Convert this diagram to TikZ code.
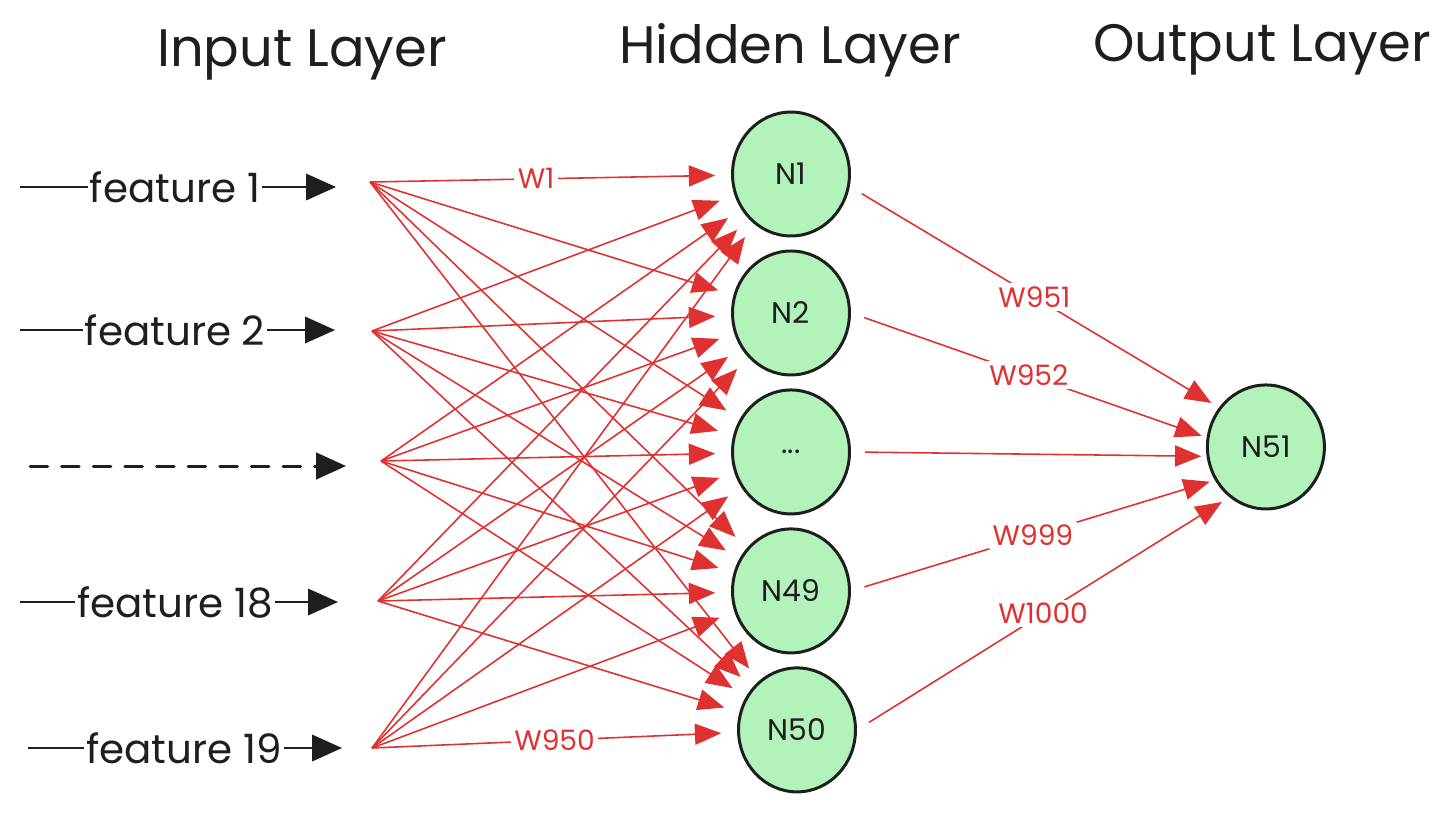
\documentclass[tikz,border=0pt]{standalone}
\usepackage{fontspec}
\setmainfont{Poppins}
\usetikzlibrary{shapes.geometric,arrows.meta,positioning}
\definecolor{wred}{HTML}{E03131}
\definecolor{nfill}{HTML}{B2F2BB}
\definecolor{ink}{HTML}{1E1E1E}

\begin{document}
\begin{tikzpicture}[
    x=0.02cm, y=-0.02cm,
    node distance=2.78cm,
    title/.style={font=\fontsize{30}{36}\selectfont, text=ink},
    neuron/.style={ellipse, draw=ink, line width=1.7pt, fill=nfill, minimum width=2.34cm, minimum height=2.48cm, font=\fontsize{17}{20}\selectfont, text=ink},
    feature/.style={font=\fontsize{23}{28}\selectfont, text=ink, inner sep=1pt},
    inline/.style={draw=ink, line width=1.3pt},
    inarrow/.style={inline, -{Triangle[length=17pt, width=15pt]}},
    weight/.style={draw=wred, line width=0.9pt, -{Triangle[length=15pt, width=12pt]}, shorten >=9pt},
    wlabel/.style={fill=white, text=wred, font=\fontsize{16}{19}\selectfont, inner sep=2pt}
]
\useasboundingbox (0,0) rectangle (1456,812);

% Titles
\node [title] (in_title) at (302,55) {Input Layer};
\node [title] (hid_title) at (790,50) {Hidden Layer};
\node [title] (out_title) at (1262,50) {Output Layer};

% Hidden Layer
\node [neuron] (n1) at (791,174) {N1};
\node [neuron, below of=n1] (n2) {N2};
\node [neuron, below of=n2] (ndots) {...};
\node [neuron, below of=ndots] (n49) {N49};
\node [neuron, below of=n49, xshift=0.12cm] (n50) {N50};

% Output Layer
\node [neuron, right of=ndots, node distance=9.5cm, yshift=0.1cm] (n51) {N51};

% Input Layer
\node [feature] (feat1) at (175,187) {feature 1};
\node [feature] (feat2) at (175,330) {feature 2};
\node [feature] (feat18) at (175,602) {feature 18};
\node [feature] (feat19) at (184,748) {feature 19};
\coordinate (feat1_in) at (20,187);
\coordinate (feat1_out) at (336,187);
\coordinate (feat2_in) at (20,330);
\coordinate (feat2_out) at (335,330);
\coordinate (dots_in) at (30,466);
\coordinate (dots_out) at (346,466);
\coordinate (feat18_in) at (20,602);
\coordinate (feat18_out) at (338,602);
\coordinate (feat19_in) at (28,748);
\coordinate (feat19_out) at (342,748);

% Sources of the weights
\coordinate (src1) at (370,182);
\coordinate (src2) at (372,331);
\coordinate (src3) at (381,461);
\coordinate (src4) at (378,601);
\coordinate (src5) at (372,748);

% Feature arrows
\draw [inline] (feat1_in) -- (feat1);
\draw [inarrow] (feat1) -- (feat1_out);
\draw [inline] (feat2_in) -- (feat2);
\draw [inarrow] (feat2) -- (feat2_out);
\draw [inarrow, line width=1.7pt, dashed, dash pattern=on 10pt off 8pt, line cap=round] (dots_in) -- (dots_out);
\draw [inline] (feat18_in) -- (feat18);
\draw [inarrow] (feat18) -- (feat18_out);
\draw [inline] (feat19_in) -- (feat19);
\draw [inarrow] (feat19) -- (feat19_out);

% Input to hidden
\foreach \src in {src1,src2,src3,src4,src5}
    \foreach \hid in {n1,n2,ndots,n49,n50}
        \draw [weight] (\src) -- (\hid);
\path (src1) -- node [wlabel, pos=0.46] (w1) {W1} (n1);
\path (src5) -- node [wlabel, pos=0.5] (w950) {W950} (n50);

% Hidden to output
\draw [weight, shorten <=8pt, shorten >=5pt] (n1.-12) -- node [wlabel] (w951) {W951} (n51.140);
\draw [weight, shorten <=8pt, shorten >=3pt] (n2.east) -- node [wlabel] (w952) {W952} (n51.171);
\draw [weight, shorten <=8pt, shorten >=3pt] (ndots.east) -- (n51.189);
\draw [weight, shorten <=8pt, shorten >=3pt] (n49.east) -- node [wlabel] (w999) {W999} (n51.213);
\draw [weight, shorten <=8pt, shorten >=5pt] (n50.east) -- node [wlabel] (w1000) {W1000} (n51.234);

\end{tikzpicture}
\end{document}
